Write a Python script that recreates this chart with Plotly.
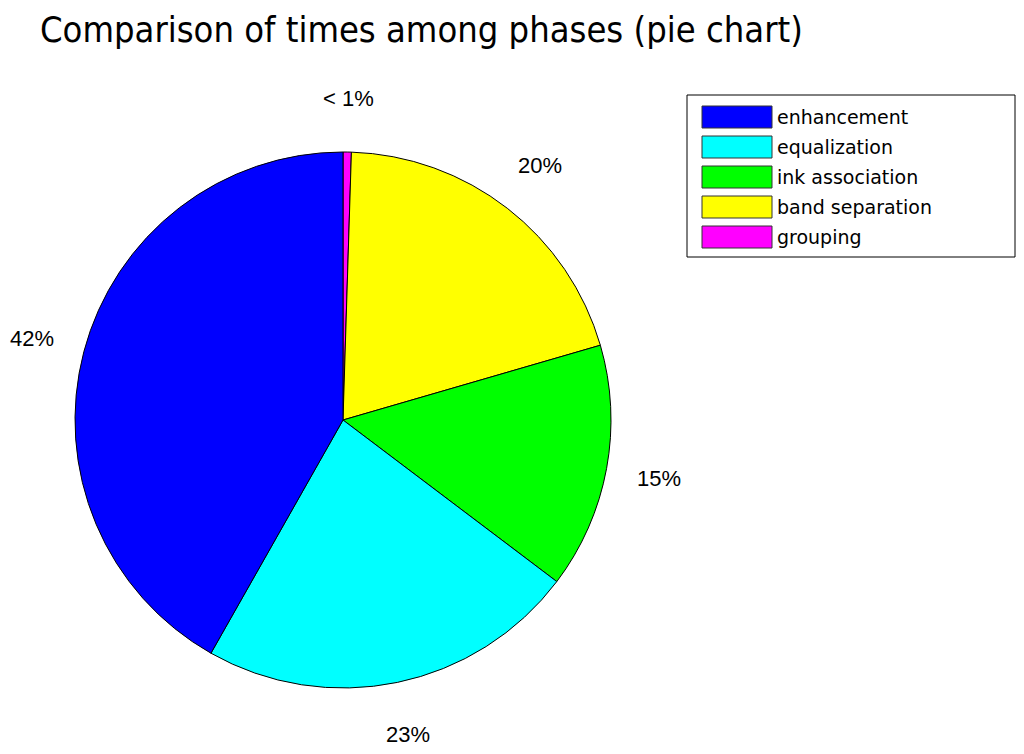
import numpy as np
import plotly.graph_objects as go

# Data
phases = ["enhancement", "equalization", "ink association", "band separation", "grouping"]
times = [41.8, 22.9, 14.8, 20.0, 0.5]
pct_labels = ["42%", "23%", "15%", "20%", "< 1%"]
colors = ["#0000FF", "#00FFFF", "#00FF00", "#FFFF00", "#FF00FF"]

OFF = 8  # page body margin
W, H = 1024 - 2 * OFF, 754 - 2 * OFF
cx, cy, r = 343, 420, 268  # pie centre / radius in screen pixels


def px(x):
    return (x - OFF) / W


def py(y):
    return 1 - (y - OFF) / H


fig = go.Figure()
# MATLAB draws counterclockwise from 12 o'clock; same layout = clockwise on reversed order
fig.add_trace(go.Pie(
    labels=phases[::-1], values=times[::-1], sort=False, direction="clockwise",
    rotation=0, textinfo="none", hoverinfo="label+percent",
    marker=dict(colors=colors[::-1], line=dict(color="black", width=1)),
    domain=dict(x=[px(cx - r), px(cx + r)], y=[py(cy + r), py(cy - r)]),
    showlegend=False,
))

# percentage labels at 1.2 * radius along each slice's mid angle
frac = np.array(times) / np.sum(times)
mid = (np.cumsum(frac) - frac / 2) * 2 * np.pi
for lab, th in zip(pct_labels, mid):
    lx = cx - np.sin(th) * 1.2 * r
    ly = cy - np.cos(th) * 1.2 * r
    fig.add_annotation(x=px(lx), y=py(ly), xref="paper", yref="paper",
                       text=lab, showarrow=False, xanchor="center", yanchor="middle",
                       font=dict(family="Liberation Sans, Arial", size=22, color="black"))

# legend box drawn by hand (MATLAB style wide swatches)
fig.add_shape(type="rect", xref="paper", yref="paper",
              x0=px(687), x1=px(1015), y0=py(257), y1=py(95),
              line=dict(color="black", width=1), fillcolor="white")
for i, (name, c) in enumerate(zip(phases, colors)):
    top = 106 + 30 * i
    fig.add_shape(type="rect", xref="paper", yref="paper",
                  x0=px(702), x1=px(772), y0=py(top + 22), y1=py(top),
                  line=dict(color="#333333", width=1), fillcolor=c)
    fig.add_annotation(x=px(775), y=py(top + 11), xref="paper", yref="paper",
                       text=name, showarrow=False, xanchor="left", yanchor="middle",
                       font=dict(family="DejaVu Sans", size=19, color="black"))

fig.update_layout(
    width=W, height=H, margin=dict(l=0, r=0, t=0, b=0),
    paper_bgcolor="white", plot_bgcolor="white",
    title=dict(text="Comparison of times among phases (pie chart)",
               x=px(40), xanchor="left", y=py(29), yanchor="middle",
               font=dict(family="DejaVu Sans Condensed, DejaVu Sans", size=36, color="black")),
)

fig.write_html("out.html")
